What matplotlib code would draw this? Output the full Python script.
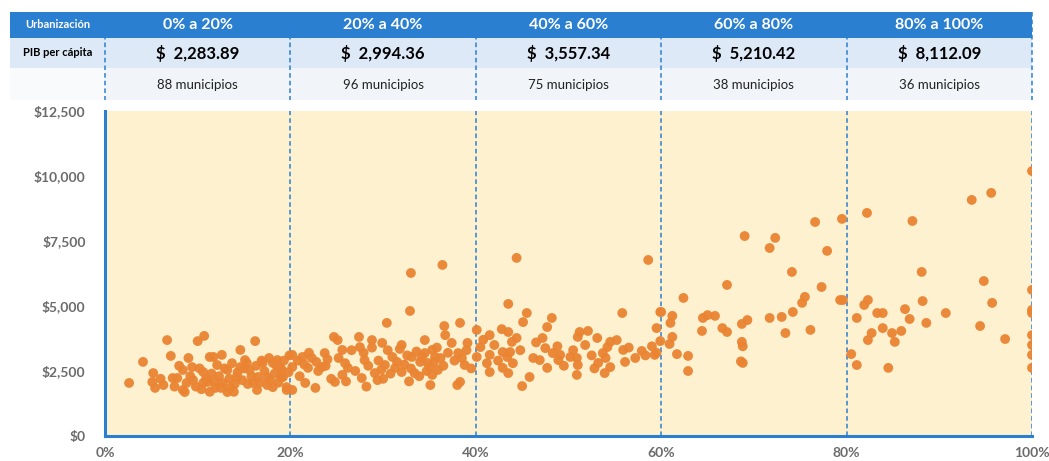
import numpy as np
import matplotlib.pyplot as plt
from matplotlib.patches import Rectangle
from matplotlib.ticker import FuncFormatter

plt.rcParams['font.family'] = ['Lato', 'DejaVu Sans']

## Data
ranges = ['0% a 20%', '20% a 40%', '40% a 60%', '60% a 80%', '80% a 100%']
pib_means = ['$  2,283.89', '$  2,994.36', '$  3,557.34', '$  5,210.42', '$  8,112.09']
municipios = [88, 96, 75, 38, 36]

# urbanization (%) and GDP per capita ($), one list pair per bracket
urb_0_20 = [2.6, 4.1, 5.2, 5.1, 5.4, 6.3, 6.7, 7.1, 7.3, 7.8, 8.4, 8.4, 8.6, 8.8, 9.0,
            9.5, 10.0, 10.7, 10.6, 10.6, 11.1, 11.3, 11.7, 12.1, 12.6, 12.7, 11.9, 13.2,
            13.2, 13.5, 14.2, 14.6, 14.6, 15.1, 15.3, 15.6, 16.0, 16.2, 16.4, 16.5, 17.0,
            17.5, 17.5, 18.1, 18.1, 18.6, 18.9, 19.1, 19.2, 19.6, 19.6,
            9.2, 9.8, 10.2, 10.9, 11.5, 11.8, 12.3, 12.9, 13.4, 13.7, 14.0, 14.3, 14.8,
            15.0, 15.4, 15.8, 16.3, 16.7, 17.2, 17.8, 18.3, 18.7, 19.3, 19.8, 6.0, 7.5,
            8.0, 9.4, 10.4, 11.3, 12.5, 13.9, 16.9, 17.7, 18.5, 19.0, 19.9]
pib_0_20 = [2040, 2850, 2420, 2080, 1850, 1960, 3690, 3080, 2230, 2230, 2540, 1770, 1690,
            2040, 3000, 2150, 3650, 3850, 2460, 2040, 2080, 3040, 3040, 2730, 3120, 2040,
            1850, 2540, 1690, 1850, 2270, 3310, 2650, 2920, 2810, 2540, 2040, 3650, 1770,
            2270, 2810, 2270, 1960, 1880, 2810, 2920, 2650, 2540, 2270, 1880, 1770,
            2300, 1900, 2600, 2200, 2400, 2100, 2300, 2600, 2200, 2800, 2000, 2450, 2150,
            2600, 2000, 2300, 2700, 2050, 2500, 2150, 2400, 2050, 2900, 2450, 2200, 1900,
            2700, 2650, 1800, 1700, 1850, 1700, 2900, 3000, 2700, 2250, 3100]

urb_20_40 = [36.4, 33.0, 32.9, 30.4, 36.6, 38.3, 24.7, 25.1, 27.4, 28.8, 25.6, 27.5, 29.9,
             32.0, 34.5, 35.3, 36.7, 37.4, 39.1, 38.1, 38.8, 20.2, 21.3, 22.3, 23.7, 23.4,
             20.2, 21.9, 21.6, 22.7, 20.2, 24.8, 25.6, 26.2, 27.7, 28.0, 29.1, 29.4, 30.2,
             31.0, 31.3, 32.0, 33.1, 33.4, 34.0, 34.5, 34.8, 35.3, 35.1, 35.6, 38.0, 38.3,
             35.9,
             20.8, 21.5, 22.0, 22.8, 23.0, 24.0, 24.4, 25.2, 25.9, 26.6, 27.0, 27.9, 28.4,
             28.8, 29.5, 29.8, 30.5, 30.8, 31.5, 31.8, 32.3, 32.6, 33.0, 33.6, 33.9, 34.2,
             34.7, 35.0, 35.5, 35.8, 36.2, 36.5, 37.0, 37.7, 38.5, 39.0, 39.5, 21.0, 23.8,
             26.0, 28.2, 30.0, 32.8]
pib_20_40 = [6580, 6270, 4810, 4350, 4230, 4350, 3810, 3690, 3810, 3690, 3310, 3420, 3580,
             3500, 3690, 3310, 3880, 3580, 3580, 3190, 2730, 3120, 3040, 3000, 3190, 2650,
             2650, 2620, 2040, 1850, 1770, 2080, 2350, 2620, 2230, 2920, 2420, 2150, 2730,
             3040, 2620, 2460, 3040, 2420, 2850, 3190, 2810, 2350, 1960, 3040, 1960, 2080,
             2540,
             2900, 2750, 3200, 2850, 2500, 2950, 2200, 3000, 2800, 3300, 2500, 3200, 2700,
             3400, 2900, 2550, 3300, 2400, 2850, 3350, 2750, 3100, 2600, 3250, 2300, 3050,
             2500, 2650, 2850, 3400, 3000, 2700, 3200, 2900, 3000, 3300, 2600, 2300, 2700,
             2100, 1900, 2200, 2100]

urb_40_60 = [44.4, 58.6, 43.5, 45.5, 45.1, 48.2, 47.7, 55.8, 59.9, 59.5, 40.1, 41.5, 42.8,
             43.5, 44.4, 43.9, 47.2, 47.5, 51.2, 52.1, 51.0, 53.1, 54.5, 55.2, 54.2, 55.9,
             53.7, 57.9, 59.3, 40.5, 40.1, 41.5, 42.9, 43.7, 43.4, 46.9, 48.3, 49.1, 50.2,
             50.9, 51.0, 48.9, 41.5, 42.9, 43.5, 47.7, 50.9, 53.2, 54.5, 53.9, 56.1, 45.8,
             45.0, 59.5, 59.9,
             40.8, 41.2, 42.0, 42.4, 44.0, 44.8, 46.2, 46.5, 48.8, 49.5, 50.5, 51.8, 52.5,
             52.8, 54.0, 56.5, 57.2, 58.3, 59.0, 61.0]
pib_40_60 = [6850, 6770, 5080, 4730, 4380, 4540, 4190, 4730, 4770, 4150, 4080, 3880, 4110,
             4000, 3770, 3620, 3770, 3380, 4000, 4040, 3810, 3770, 3620, 3690, 3420, 3310,
             3190, 3270, 3120, 3420, 3040, 3120, 3230, 3230, 3040, 2920, 3190, 3120, 3040,
             3000, 2730, 2920, 2460, 2620, 2420, 2620, 2350, 2810, 2650, 2420, 2850, 2270,
             1920, 3200, 3650,
             3700, 2800, 3500, 2900, 2800, 3300, 3000, 3600, 3450, 2700, 3300, 3500, 3100,
             2600, 3000, 3400, 3000, 3100, 3450, 4350]

urb_60_80 = [76.6, 79.5, 69.0, 72.3, 71.7, 77.9, 74.1, 67.1, 77.3, 62.4, 79.3, 79.6, 75.5,
             75.2, 74.2, 73.0, 71.7, 60.0, 61.2, 64.5, 65.0, 65.8, 64.4, 66.6, 67.1, 68.7,
             69.3, 73.4, 76.1, 61.2, 60.9, 68.7, 68.8, 61.7, 62.9, 62.9, 68.8, 68.6]
pib_60_80 = [8230, 8350, 7690, 7620, 7230, 7120, 6310, 5810, 5730, 5310, 5230, 5230, 5350,
             5120, 4770, 4580, 4540, 4770, 4620, 4540, 4650, 4620, 4040, 4150, 4000, 4310,
             4460, 3960, 4080, 3810, 3540, 3620, 3450, 3150, 3080, 2500, 2810, 2870]

urb_80_100 = [100.0, 95.6, 93.5, 82.2, 87.1, 88.1, 94.8, 100.0, 82.3, 81.9, 88.2, 95.7,
              100.0, 100.0, 83.3, 83.9, 86.3, 90.7, 81.1, 86.8, 88.6, 94.4, 83.9, 84.9,
              85.9, 82.7, 82.3, 85.2, 97.1, 100.0, 100.0, 100.0, 100.0, 80.5, 81.1, 84.5]
pib_80_100 = [10190, 9350, 9080, 8580, 8270, 6310, 5960, 5620, 5230, 5040, 5190, 5120,
              4850, 4730, 4730, 4730, 4880, 4730, 4540, 4500, 4350, 4230, 4150, 3960,
              4040, 3960, 3690, 3620, 3730, 3880, 3500, 3120, 2620, 3150, 2730, 2620]

urb = np.concatenate([urb_0_20, urb_20_40, urb_40_60, urb_60_80, urb_80_100])
pib = np.concatenate([pib_0_20, pib_20_40, pib_40_60, pib_60_80, pib_80_100])

## Plotting
blue = '#2b7fd1'
orange = '#ea8432'
gray = '#6b6b6b'

fig = plt.figure(figsize=(10.49, 4.61), dpi=100)
W, H = 1049, 461

ax = fig.add_axes([105 / W, 1 - 436 / H, 927 / W, 325 / H])
ax.set_facecolor('#fdf1d0')
ax.scatter(urb, pib, s=50, color=orange, edgecolor='none', alpha=0.95, zorder=3)
ax.set_xlim(0, 100)
ax.set_ylim(0, 12500)
ax.set_yticks(np.arange(0, 12501, 2500))
ax.set_xticks(np.arange(0, 101, 20))
ax.yaxis.set_major_formatter(FuncFormatter(lambda v, p: '${:,.0f}'.format(v)))
ax.xaxis.set_major_formatter(FuncFormatter(lambda v, p: '{:.0f}%'.format(v)))
ax.tick_params(axis='both', length=0, colors=gray, labelsize=10)
ax.tick_params(axis='y', pad=14)
ax.tick_params(axis='x', pad=8)
for lab in ax.get_xticklabels() + ax.get_yticklabels():
    lab.set_fontweight('bold')
for s in ['top', 'right']:
    ax.spines[s].set_visible(False)
for s in ['left', 'bottom']:
    ax.spines[s].set_color(blue)
    ax.spines[s].set_linewidth(2.2)
for xv in [20, 40, 60, 80, 100]:
    ax.axvline(xv, color=blue, ls=(0, (3, 2)), lw=1.1, zorder=2)

# header table
hx = fig.add_axes([105 / W, 1 - 100 / H, 927 / W, 88 / H])
hx.set_xlim(0, 100)
hx.set_ylim(100, 12)
hx.axis('off')
x0 = -95 / 9.27
hx.add_patch(Rectangle((x0, 12), 100 - x0, 26, color=blue, clip_on=False, lw=0))
hx.add_patch(Rectangle((x0, 38), 100 - x0, 30, color='#dde9f6', clip_on=False, lw=0))
hx.add_patch(Rectangle((0, 68), 100, 32, color='#f1f5fa', clip_on=False, lw=0))
hx.add_patch(Rectangle((x0, 68), -x0, 32, color='#f8fafc', clip_on=False, lw=0))
for xv in [0, 20, 40, 60, 80, 100]:
    hx.plot([xv, xv], [12, 100], color=blue, ls=(0, (3, 2)), lw=1.1, clip_on=False)

hx.text(x0 / 2, 25, 'Urbanización', color='white', fontsize=8, fontweight='bold',
        ha='center', va='center', clip_on=False)
hx.text(x0 / 2, 53, 'PIB per cápita', color='black', fontsize=8, fontweight='bold',
        ha='center', va='center', clip_on=False)
for i in range(5):
    xc = 10 + 20 * i
    hx.text(xc, 25, ranges[i], color='white', fontsize=11.5, fontweight='bold',
            ha='center', va='center')
    hx.text(xc, 53, pib_means[i], color='black', fontsize=12, fontweight='bold',
            ha='center', va='center')
    hx.text(xc, 85, '{} municipios'.format(municipios[i]), color='#222222', fontsize=9.5,
            ha='center', va='center')

fig.savefig('out.png', dpi=100, facecolor='white')
